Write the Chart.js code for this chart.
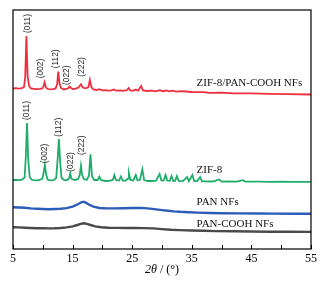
<!DOCTYPE html>
<html><head><meta charset="utf-8">
<script src="https://cdn.jsdelivr.net/npm/chart.js@4/dist/chart.umd.min.js"></script>
<style>html,body{margin:0;padding:0;background:#fff}canvas{display:block}</style>
</head><body>
<canvas id="c" width="324" height="284"></canvas>
<script>
// ---- data (2θ in degrees, intensity in arbitrary offset units) ----
const redX = [5.0,5.5,6.0,6.5,6.85,7.05,7.25,7.45,7.7,8.0,8.5,9.0,9.5,9.9,10.1,10.3,10.5,10.75,11.2,11.7,12.15,12.4,12.6,12.8,13.05,13.5,14.0,14.3,14.5,14.7,15.0,15.5,16.0,16.4,16.7,17.2,17.65,17.9,18.15,18.5,19.0,19.5,20.0,20.5,21.0,21.5,21.9,22.3,23.0,23.5,24.1,24.4,24.7,25.2,25.6,26.0,26.5,26.8,27.5,28.2,29.0,29.6,30.2,30.7,31.2,31.7,32.4,33.0,34.0,35.0,36.0,37.0,38.0,40.0,42.0,45.0,48.0,51.0,55.0];
const redY = [160.5,160.8,160.3,160.9,162,172,213,173,163,160.6,160.2,159.8,160.2,160.6,162.5,166.7,162,160.2,159.6,159.9,160.6,164.5,177.3,166,161,159.5,160,161,162.5,161.2,160,160.3,161.5,164.7,161.5,160.6,161.8,169,162,159.5,159,159.8,158.6,158.9,158.3,158.7,159.6,158.4,158.6,158.2,158.8,161,158.5,158.4,159.4,158.3,163,158.5,158,158.3,157.6,158.8,157.8,158.5,157.6,158.4,157.4,157.9,157.5,157,156.8,156.9,156.2,156.3,155.7,155.6,155.1,154.9,154.5];

const greenX = [5.0,5.5,6.0,6.5,6.95,7.15,7.35,7.55,7.8,8.1,8.5,9.0,9.5,9.95,10.15,10.35,10.55,10.8,11.3,11.8,12.25,12.5,12.7,12.9,13.15,13.6,14.1,14.4,14.6,14.8,15.3,15.9,16.2,16.4,16.6,16.9,17.4,17.75,18.0,18.25,18.6,19.2,19.5,19.8,20.5,21.2,21.8,22.0,22.3,22.8,23.1,23.4,23.9,24.3,24.45,24.7,25.2,25.6,25.9,26.3,26.7,27.0,27.6,28.3,29.0,29.6,29.9,30.3,30.6,30.9,31.3,31.6,31.9,32.2,32.5,32.8,33.5,34.2,34.5,35.1,35.4,35.9,36.4,36.7,37.3,38.5,39.6,40.0,41.2,42.5,43.6,44.0,46.5,48.0,50.0,52.0,55.0];
const greenY = [69,69.2,68.8,69.3,71.5,92,126,90,72,69.5,68.8,68.6,69,70.5,77,84,75,69.5,68.6,68.8,71,91,110,88,71,68.8,69,70.5,75.5,70.3,69,69.8,74,83.3,74,69.8,69.2,73.5,94.7,73,69,69,72.3,68.8,68,68.2,69.5,74,68.8,68.4,72.5,68.5,68.4,70.5,75.7,69,68.6,74,68.6,69.2,79.7,69,68,68,68.3,75,68.4,68.5,74,68.3,68.2,73,68,68.2,73,68,67.8,72,67.8,74,67.8,67.9,72,67.7,67.6,67.5,69.5,67.4,67.5,67.3,68.8,67.3,67.4,67.2,67.3,67.1,67.2];

const blueX = [5,6,7,8,9,10,11,12,13,14,15,15.8,16.4,16.8,17.2,17.8,18.5,19.5,20.5,22,23.5,25,26.5,28,29,30,31,32,33,34.5,36,38,40,43,46,49,52,55];
const blueY = [41.7,41.5,41.2,40.6,40.3,40,39.8,40,40.3,40.9,42.3,44.5,46.5,47.3,46.3,44.2,42.3,41,40.7,40.6,40.8,41,41.1,40.4,39.6,38.9,38.2,37.6,37.2,36.8,36.4,36,35.8,35.6,35.5,35.4,35.3,35.2];

const grayX = [5,6,7,8,9,10,11,12,13,14,15,15.8,16.5,16.9,17.4,18,18.8,19.8,21,22.5,24,25.5,27,28.5,30,31.5,33,35,37,39,42,45,48,51,55];
const grayY = [21.8,21.6,21.3,21,20.8,20.7,20.6,20.7,21,21.6,22.6,24,25.4,25.7,25.1,24,22.6,21.7,21.3,21.1,21,21,20.9,20.6,19.9,19.3,18.9,18.5,18.2,17.9,17.7,17.5,17.3,17.2,17.1];

const seriesNames = ["ZIF-8/PAN-COOH NFs","ZIF-8","PAN NFs","PAN-COOH NFs"];
const seriesNameX = [35.8,35.8,35.8,35.8];
const seriesNameY = [166,79,46.5,25.3];

const peakTexts = ["(011)","(002)","(112)","(022)","(222)"];
const redPeakLabelX = [7.4,9.7,12.08,14.0,16.56];
const redPeakLabelY = [216,170.7,180.7,164,172.3];
const greenPeakLabelX = [7.37,10.26,12.65,14.6,16.6];
const greenPeakLabelY = [129,85.7,112.3,77.3,94];

const xTickValues = [5,10,15,20,25,30,35,40,45,50,55];
const xTickLabels = ["5","","15","","25","","35","","45","","55"];

// ---- chart ----
const toPts = (xs, ys) => xs.map((x, i) => ({x: x, y: ys[i]}));
const SERIF = '"Liberation Serif","Times New Roman",serif';
const SANS = '"Liberation Sans",Arial,sans-serif';

const decor = {
  id: 'decor',
  afterDatasetsDraw(chart) {
    const {ctx, chartArea: a, scales: {x, y}} = chart;
    ctx.save();
    ctx.strokeStyle = '#000';
    ctx.lineWidth = 1.2;
    ctx.strokeRect(a.left, a.top, a.right - a.left, a.bottom - a.top);
    ctx.lineWidth = 1;
    xTickValues.forEach(v => {
      const px = Math.round(x.getPixelForValue(v)) + 0.5;
      ctx.beginPath(); ctx.moveTo(px, a.bottom); ctx.lineTo(px, a.bottom - 4); ctx.stroke();
    });
    ctx.fillStyle = '#111';
    ctx.font = '11px ' + SERIF;
    ctx.textAlign = 'left'; ctx.textBaseline = 'middle';
    seriesNames.forEach((t, i) => {
      ctx.fillText(t, x.getPixelForValue(seriesNameX[i]), y.getPixelForValue(seriesNameY[i]));
    });
    ctx.font = '8.4px ' + SANS;
    ctx.fillStyle = '#222';
    const drawPeak = (t, xv, yv) => {
      ctx.save();
      ctx.translate(x.getPixelForValue(xv), y.getPixelForValue(yv));
      ctx.rotate(-Math.PI / 2);
      ctx.textAlign = 'left'; ctx.textBaseline = 'middle';
      ctx.fillText(t, 0, 0);
      ctx.restore();
    };
    peakTexts.forEach((t, i) => drawPeak(t, redPeakLabelX[i], redPeakLabelY[i]));
    peakTexts.forEach((t, i) => drawPeak(t, greenPeakLabelX[i], greenPeakLabelY[i]));
    ctx.fillStyle = '#000';
    ctx.textBaseline = 'middle'; ctx.textAlign = 'left';
    const f1 = 'italic 12px ' + SERIF, f2 = '12px ' + SERIF;
    const p1 = '2\u03B8', p2 = ' / (\u00B0)';
    ctx.font = f1; const w1 = ctx.measureText(p1).width;
    ctx.font = f2; const w2 = ctx.measureText(p2).width;
    const cx = (a.left + a.right) / 2, sx = cx - (w1 + w2) / 2, ty = 270;
    ctx.font = f1; ctx.fillText(p1, sx, ty);
    ctx.font = f2; ctx.fillText(p2, sx + w1, ty);
    ctx.restore();
  }
};

const ds = (xs, ys, color, w) => ({
  data: toPts(xs, ys), borderColor: color, borderWidth: w,
  pointRadius: 0, tension: 0, fill: false
});

new Chart(document.getElementById('c'), {
  type: 'line',
  data: {
    datasets: [
      ds(redX, redY, '#ee2f3d', 1.8),
      ds(greenX, greenY, '#1fae6a', 1.8),
      ds(blueX, blueY, '#2b5cb8', 2.4),
      ds(grayX, grayY, '#4a4a4a', 2.4)
    ]
  },
  options: {
    responsive: false,
    devicePixelRatio: 1,
    animation: false,
    layout: {padding: {left: 13, right: 13, top: 10, bottom: 0}},
    plugins: {legend: {display: false}, tooltip: {enabled: false}},
    scales: {
      x: {
        type: 'linear', min: 5, max: 55,
        afterBuildTicks: s => { s.ticks = xTickValues.map(v => ({value: v})); },
        afterFit: s => { s.height = 35; },
        grid: {display: false, drawTicks: false},
        border: {display: false},
        ticks: {
          autoSkip: false, maxRotation: 0, padding: 3, color: '#000',
          font: {family: SERIF, size: 12},
          callback: (v) => xTickLabels[xTickValues.indexOf(v)]
        }
      },
      y: {display: false, min: 0, max: 239}
    }
  },
  plugins: [decor]
});
</script>
</body></html>
